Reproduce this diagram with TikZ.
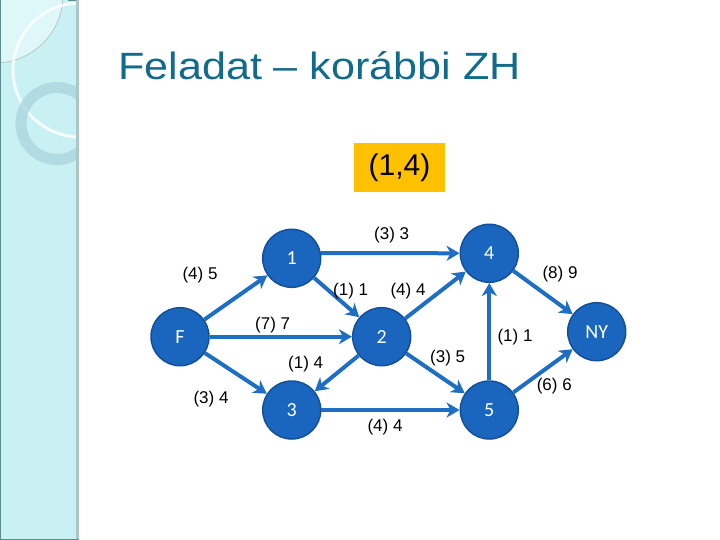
\documentclass[tikz,border=0pt]{standalone}
\usepackage{fontspec}
\setmainfont{Liberation Sans}
\newfontfamily\nodefont{Carlito}
\usetikzlibrary{arrows.meta}
\definecolor{band}{RGB}{201,241,244}
\definecolor{bandlight}{RGB}{222,247,249}
\definecolor{bandedge}{RGB}{168,200,204}
\definecolor{banddark}{RGB}{92,140,142}
\definecolor{ringcol}{RGB}{168,212,222}
\definecolor{titlecol}{RGB}{18,107,138}
\definecolor{nodefill}{RGB}{26,102,190}
\definecolor{nodeborder}{RGB}{20,80,154}
\definecolor{edgecol}{RGB}{30,110,196}
\definecolor{boxcol}{RGB}{255,192,0}
\tikzset{
  vtx/.style={circle, minimum size=58pt, inner sep=0pt, fill=nodefill, draw=nodeborder, line width=1.5pt, text=white, font=\nodefont\fontsize{20}{22}\selectfont},
  edge/.style={draw=edgecol, line width=4pt, -{Stealth[length=13pt,width=15pt,inset=4pt]}},
  lbl/.style={font=\fontsize{17}{19}\selectfont, text=black, inner sep=0pt}
}
\begin{document}
\begin{tikzpicture}[x=1pt,y=-1pt]
\useasboundingbox (0,0) rectangle (720,540);
\fill[white] (0,0) rectangle (720,540);
% left band
\begin{scope}
\clip (0,0) rectangle (77,540);
\fill[band] (0,0) rectangle (77,540);
\fill[bandlight] (-5,-5) circle (68);
\draw[gray!60, line width=0.5pt] (-5,-5) circle (68);
\draw[white, opacity=0.8, line width=3pt] (80,70) circle (67);
\draw[ringcol, opacity=0.75, line width=11pt] (57,123.5) circle (36);
\end{scope}
\fill[bandedge] (76,0) rectangle (79,540);
\draw[banddark, line width=1pt] (0.5,0) -- (0.5,540);
\draw[banddark, line width=1pt] (0,539.5) -- (79,539.5);
\fill[banddark] (68,0) rectangle (76,1.5);
% title
\node[anchor=base west, inner sep=0pt, text=titlecol, font=\fontsize{38}{44}\selectfont] (title) at (118,80) {\scalebox{1.135}[1]{Feladat – korábbi ZH}};
% orange box
\node[fill=boxcol, minimum width=91pt, minimum height=49pt, inner sep=0pt, font=\fontsize{30}{34}\selectfont] (box) at (399.5,167.5) {(1,4)};
% nodes
\node[vtx] (F) at (180,336.7) {F};
\node[vtx] (n1) at (291.7,258.3) {1};
\node[vtx] (n2) at (381.7,336.7) {2};
\node[vtx] (n3) at (291.7,410) {3};
\node[vtx] (n4) at (489.3,253.3) {4};
\node[vtx] (n5) at (489.3,410) {5};
\node[vtx] (NY) at (596.7,331.7) {NY};
% edges
\draw[edge] (F) -- (n1);
\draw[edge] (F) -- (n2);
\draw[edge] (F) -- (n3);
\draw[edge] (n1.10) -- (n4);
\draw[edge] (n1) -- (n2);
\draw[edge] (n2) -- (n4);
\draw[edge] (n2) -- (n3);
\draw[edge] (n2) -- (n5);
\draw[edge] (n3) -- (n5);
\draw[edge] (n5) -- (n4);
\draw[edge] (n4) -- (NY);
\draw[edge] (n5) -- (NY);
% labels
\node[lbl] (l13) at (391.7,235) {(3) 3};
\node[lbl] (lF1) at (200,275) {(4) 5};
\node[lbl] (l12) at (350.7,291) {(1) 1};
\node[lbl] (l24) at (408,291) {(4) 4};
\node[lbl] (lF2) at (272.7,325) {(7) 7};
\node[lbl] (l23) at (305.7,364.3) {(1) 4};
\node[lbl] (lF3) at (211,399) {(3) 4};
\node[lbl] (l35) at (385,426.7) {(4) 4};
\node[lbl] (l4N) at (560,274.3) {(8) 9};
\node[lbl] (l25) at (447.7,357.7) {(3) 5};
\node[lbl] (l54) at (515,336.7) {(1) 1};
\node[lbl] (l5N) at (554.3,385.7) {(6) 6};
\end{tikzpicture}
\end{document}
